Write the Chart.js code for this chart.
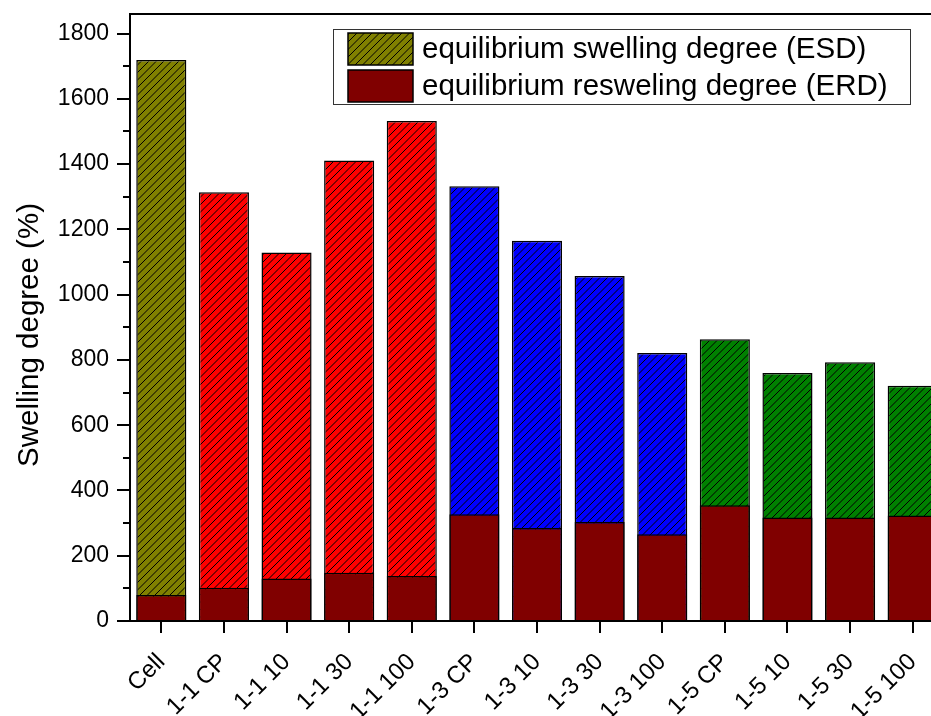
<!DOCTYPE html>
<html>
<head>
<meta charset="utf-8">
<script src="https://cdn.jsdelivr.net/npm/chart.js@4.4.1/dist/chart.umd.min.js"></script>
<style>
  html, body { margin: 0; padding: 0; background: #fff; overflow: hidden; }
  #wrap { width: 960px; height: 716px; }
</style>
</head>
<body>
<div id="wrap"><canvas id="chart" width="960" height="716"></canvas></div>
<script>
// Sample groups and their swelling / reswelling degrees (%)
const categories = ['Cell', '1-1 CP', '1-1 10', '1-1 30', '1-1 100',
                    '1-3 CP', '1-3 10', '1-3 30', '1-3 100',
                    '1-5 CP', '1-5 10', '1-5 30', '1-5 100'];
const esdValues = [1719, 1314, 1129, 1411, 1532, 1332, 1165, 1057, 821, 863, 760, 793, 721];
const erdValues = [80, 102, 130, 148, 138, 327, 285, 303, 266, 355, 317, 317, 323];
const seriesLabels = ['equilibrium swelling degree (ESD)', 'equilibrium resweling degree (ERD)'];
const yAxisTitle = 'Swelling degree (%)';

// Fill colour of each hatched ESD bar, by sample family
const esdColors = ['#808000',
  '#ff0000', '#ff0000', '#ff0000', '#ff0000',
  '#0000ff', '#0000ff', '#0000ff', '#0000ff',
  '#008000', '#008000', '#008000', '#008000'];
const erdColor = '#800000';

const FONT = '"Liberation Sans", Arial, sans-serif';

// Diagonal "/" hatch over a solid colour
function hatch(color) {
  const size = 15;
  const c = document.createElement('canvas');
  c.width = size; c.height = size;
  const g = c.getContext('2d');
  g.fillStyle = color;
  g.fillRect(0, 0, size, size);
  g.strokeStyle = '#000';
  g.lineWidth = 1;
  g.beginPath();
  for (const k of [0, 7.5, 15, 22.5, 30]) {
    g.moveTo(k + 3, -3);
    g.lineTo(-3, k + 3);
  }
  g.stroke();
  return g.createPattern(c, 'repeat');
}

const cache = {};
const esdFills = esdColors.map(col => cache[col] || (cache[col] = hatch(col)));

// Axis frame, outward major/minor ticks, rotated y title and boxed legend
const framePlugin = {
  id: 'frame',
  afterDraw(chart) {
    const { ctx, chartArea: a, scales: { x, y } } = chart;
    ctx.save();
    ctx.strokeStyle = '#000';
    ctx.lineWidth = 2;
    ctx.beginPath();
    ctx.moveTo(a.left, a.top); ctx.lineTo(a.left, a.bottom);
    ctx.moveTo(a.left - 1, a.bottom); ctx.lineTo(a.right, a.bottom);
    ctx.moveTo(a.left - 1, a.top); ctx.lineTo(a.right, a.top);
    // y ticks: major every 200, minor every 100
    for (let v = 0; v <= y.max; v += 100) {
      const py = Math.round(y.getPixelForValue(v));
      const len = v % 200 === 0 ? 13 : 7;
      ctx.moveTo(a.left, py); ctx.lineTo(a.left - len, py);
    }
    // x ticks at category centres
    categories.forEach((_, i) => {
      const px = Math.round(x.getPixelForValue(i));
      ctx.moveTo(px, a.bottom); ctx.lineTo(px, a.bottom + 12);
    });
    ctx.stroke();

    // y axis title
    ctx.fillStyle = '#000';
    ctx.font = '29.5px ' + FONT;
    ctx.textAlign = 'center';
    ctx.textBaseline = 'middle';
    ctx.translate(30, 335);
    ctx.rotate(-Math.PI / 2);
    ctx.fillText(yAxisTitle, 0, 0);
    ctx.restore();

    // legend box
    ctx.save();
    ctx.fillStyle = '#fff';
    ctx.fillRect(333, 29, 578, 76);
    ctx.strokeStyle = '#333';
    ctx.lineWidth = 1;
    ctx.strokeRect(333.5, 29.5, 577, 75);
    const swatches = [esdFills[0], erdColor];
    const rows = [33, 70];
    ctx.font = '29.5px ' + FONT;
    ctx.textAlign = 'left';
    ctx.textBaseline = 'middle';
    rows.forEach((top, i) => {
      ctx.fillStyle = swatches[i];
      ctx.fillRect(348, top, 65, 32);
      ctx.strokeStyle = '#000';
      ctx.lineWidth = 1.5;
      ctx.strokeRect(348, top, 65, 32);
      ctx.fillStyle = '#000';
      ctx.fillText(seriesLabels[i], 422, top + 17);
    });
    ctx.restore();
  }
};

new Chart(document.getElementById('chart'), {
  type: 'bar',
  data: {
    labels: categories,
    datasets: [
      {
        label: seriesLabels[0],
        data: esdValues,
        backgroundColor: esdFills,
        borderColor: '#000',
        borderWidth: 1.5,
        grouped: false,
        order: 1,
        barPercentage: 0.8,
        categoryPercentage: 1
      },
      {
        label: seriesLabels[1],
        data: erdValues,
        backgroundColor: erdColor,
        borderColor: '#000',
        borderWidth: 1.5,
        grouped: false,
        order: 0,
        barPercentage: 0.8,
        categoryPercentage: 1
      }
    ]
  },
  options: {
    responsive: false,
    devicePixelRatio: 1,
    animation: false,
    layout: { padding: { left: 0, top: 14, right: 16, bottom: 0 } },
    plugins: { legend: { display: false }, tooltip: { enabled: false } },
    scales: {
      x: {
        grid: { display: false, drawTicks: false },
        border: { display: false },
        ticks: {
          autoSkip: false,
          minRotation: 45,
          maxRotation: 45,
          padding: 27,
          color: '#000',
          font: { family: FONT, size: 24 }
        },
        afterFit(scale) {
          scale.height = 95;
          scale.paddingLeft = 0;
          scale.paddingRight = 0;
        }
      },
      y: {
        min: 0,
        max: 1860,
        grid: { display: false, drawTicks: false },
        border: { display: false },
        ticks: {
          stepSize: 200,
          includeBounds: false,
          padding: 21,
          color: '#000',
          font: { family: FONT, size: 23 },
          callback: v => String(v)
        },
        afterFit(scale) {
          scale.width = 130;
          scale.paddingTop = 0;
          scale.paddingBottom = 0;
        }
      }
    }
  },
  plugins: [framePlugin]
});
</script>
</body>
</html>
